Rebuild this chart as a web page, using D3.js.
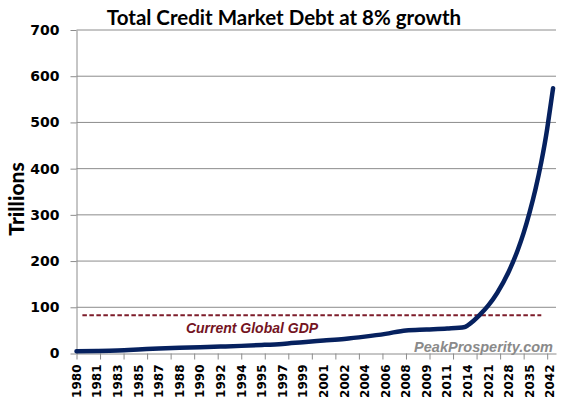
<!DOCTYPE html>
<html>
<head>
<meta charset="utf-8">
<script src="https://cdn.jsdelivr.net/npm/d3@7"></script>
<style>
  body { margin: 0; background: #fff; }
  svg { display: block; }
</style>
</head>
<body>
<svg width="561" height="405"></svg>
<script>
// axis labels, one every 7 data periods (quarterly to 2012, then yearly)
var tickLabels = ["1980", "1981", "1983", "1985", "1987", "1988", "1990", "1992",
    "1994", "1995", "1997", "1999", "2001", "2002", "2004", "2006", "2008", "2009",
    "2011", "2014", "2021", "2028", "2035", "2042"];

// data period index and debt in trillions
var periods = [0, 7, 14, 21, 28, 35, 42, 49, 56, 63, 70, 77, 84, 91, 98, 105, 112,
    119, 126, 132, 133, 135, 137, 140, 143, 147, 150, 152, 154, 156, 158, 160, 161, 162];
var debt = [4.8, 5.5, 6.6, 8.6, 10.8, 12.2, 13.6, 15.0, 16.5, 18.4, 20.8, 24.5, 28.0,
    31.5, 36.5, 42.5, 50.0, 52.0, 54.0, 57.5, 61, 71, 83, 104, 131, 178, 224, 261,
    305, 355, 414, 486, 530, 574];

var yTicks = [0, 100, 200, 300, 400, 500, 600, 700];
var gdpValue = 83;
var gdpSpan = [2, 158];
var nPeriods = 163;

var svg = d3.select("svg"),
    margin = { top: 30, right: 5, bottom: 51.5, left: 76.5 },
    width = +svg.attr("width") - margin.left - margin.right,
    height = +svg.attr("height") - margin.top - margin.bottom,
    g = svg.append("g").attr("transform", "translate(" + margin.left + "," + margin.top + ")");

var x = d3.scaleLinear().domain([0, nPeriods]).range([0, width]);
var y = d3.scaleLinear().domain([0, 700]).range([height, 0]);

var gridColor = "#8c8c8c";

// gridlines
g.append("g")
    .selectAll("line")
    .data(yTicks.slice(1))
    .enter().append("line")
    .attr("x1", 0)
    .attr("x2", width)
    .attr("y1", function(d) { return y(d); })
    .attr("y2", function(d) { return y(d); })
    .attr("stroke", gridColor)
    .attr("stroke-width", 1);

// y axis
var yAxis = g.append("g")
    .attr("class", "y-axis")
    .call(d3.axisLeft(y).tickValues(yTicks).tickSize(6).tickSizeOuter(0).tickPadding(11));
yAxis.selectAll("path, line").attr("stroke", gridColor);
yAxis.selectAll("text")
    .attr("font-family", "DejaVu Sans")
    .attr("font-weight", "bold")
    .attr("font-size", 14)
    .attr("fill", "#000");

// x axis: tick marks every 8 periods, labels every 7
var xAxis = g.append("g")
    .attr("class", "x-axis")
    .attr("transform", "translate(0," + height + ")")
    .call(d3.axisBottom(x).tickValues(d3.range(0, 161, 8)).tickSize(6).tickSizeOuter(0).tickFormat(""));
xAxis.selectAll("path, line").attr("stroke", gridColor);

g.append("g")
    .selectAll("text")
    .data(tickLabels)
    .enter().append("text")
    .attr("transform", function(d, i) { return "translate(" + x(i * 7) + "," + (height + 11) + ") rotate(-90)"; })
    .attr("text-anchor", "end")
    .attr("dy", "0.36em")
    .attr("font-family", "DejaVu Sans")
    .attr("font-weight", "bold")
    .attr("font-size", 12)
    .text(function(d) { return d; });

// GDP reference line with soft shadow
var defs = svg.append("defs");
defs.append("filter")
    .attr("id", "blur")
    .attr("x", "-5%").attr("y", "-200%").attr("width", "110%").attr("height", "500%")
    .append("feGaussianBlur")
    .attr("stdDeviation", 1.3);

g.append("line")
    .attr("x1", x(gdpSpan[0]) + 3)
    .attr("x2", x(gdpSpan[1]) + 4)
    .attr("y1", y(gdpValue) + 5)
    .attr("y2", y(gdpValue) + 5)
    .attr("stroke", "#bdbdbd")
    .attr("stroke-width", 5)
    .attr("filter", "url(#blur)");

g.append("line")
    .attr("x1", x(gdpSpan[0]))
    .attr("x2", x(gdpSpan[1]))
    .attr("y1", y(gdpValue))
    .attr("y2", y(gdpValue))
    .attr("stroke", "#7d1c2a")
    .attr("stroke-width", 2)
    .attr("stroke-dasharray", "4.5,2.5");

g.append("text")
    .attr("x", 252 - margin.left)
    .attr("y", y(gdpValue) + 17.5)
    .attr("text-anchor", "middle")
    .attr("font-family", "Liberation Sans")
    .attr("font-weight", "bold")
    .attr("font-style", "italic")
    .attr("font-size", 14)
    .attr("fill", "#74141f")
    .text("Current Global GDP");

// debt line
var points = periods.map(function(p, i) { return { p: p, v: debt[i] }; });
var line = d3.line()
    .x(function(d) { return x(d.p); })
    .y(function(d) { return y(d.v); })
    .curve(d3.curveMonotoneX);

g.append("path")
    .datum(points)
    .attr("fill", "none")
    .attr("stroke", "#06215f")
    .attr("stroke-width", 4.5)
    .attr("stroke-linecap", "round")
    .attr("stroke-linejoin", "round")
    .attr("d", line);

// watermark
g.append("text")
    .attr("x", width - 3)
    .attr("y", height - 2)
    .attr("text-anchor", "end")
    .attr("font-family", "Liberation Sans")
    .attr("font-weight", "bold")
    .attr("font-style", "italic")
    .attr("font-size", 14.5)
    .attr("fill", "#8a8a8a")
    .text("PeakProsperity.com");

// axis title
svg.append("text")
    .attr("transform", "translate(24,199) rotate(-90)")
    .attr("text-anchor", "middle")
    .attr("font-family", "Lato")
    .attr("font-weight", 900)
    .attr("font-size", 21)
    .text("Trillions");

// title
svg.append("text")
    .attr("x", 284)
    .attr("y", 25)
    .attr("text-anchor", "middle")
    .attr("font-family", "Lato")
    .attr("font-weight", "bold")
    .attr("font-size", 20.5)
    .text("Total Credit Market Debt at 8% growth");
</script>
</body>
</html>
